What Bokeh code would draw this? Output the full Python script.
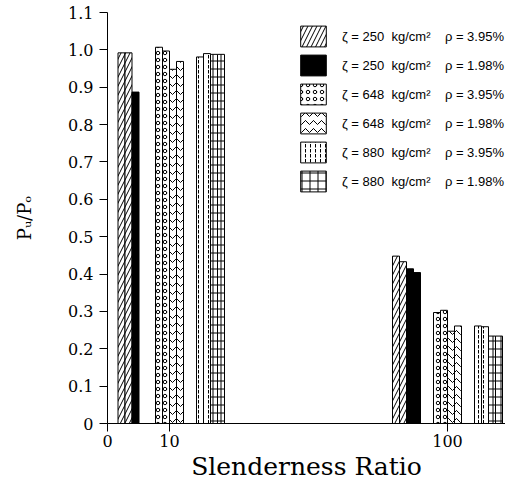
import numpy as np
from bokeh.plotting import figure
from bokeh.models import Range1d, FixedTicker, ColumnDataSource
from bokeh.embed import file_html
from bokeh.resources import INLINE

# ---------------- data ----------------
slenderness = [10, 100]
x_ticks = [0, 10, 100]
x_tick_labels = ["0", "10", "100"]
y_ticks = [0.0, 0.1, 0.2, 0.3, 0.4, 0.5, 0.6, 0.7, 0.8, 0.9, 1.0, 1.1]
y_tick_labels = ["0", "0.1", "0.2", "0.3", "0.4", "0.5", "0.6", "0.7", "0.8", "0.9", "1.0", "1.1"]

strengths = [250, 648, 880]          # kg/cm2
rhos = ["3.95%", "1.98%"]

# Pu/Po values, per strength / steel ratio, at slenderness 10 and 100
fc250_p395_L10 = [0.992, 0.992]
fc250_p198_L10 = [0.887]
fc648_p395_L10 = [1.007, 0.997]
fc648_p198_L10 = [0.948, 0.969]
fc880_p395_L10 = [0.981, 0.990]
fc880_p198_L10 = [0.988, 0.988]

fc250_p395_L100 = [0.448, 0.433]
fc250_p198_L100 = [0.414, 0.404]
fc648_p395_L100 = [0.297, 0.303]
fc648_p198_L100 = [0.247, 0.261]
fc880_p395_L100 = [0.261, 0.259]
fc880_p198_L100 = [0.234, 0.234]

series = {
    (250, "3.95%"): {10: fc250_p395_L10, 100: fc250_p395_L100},
    (250, "1.98%"): {10: fc250_p198_L10, 100: fc250_p198_L100},
    (648, "3.95%"): {10: fc648_p395_L10, 100: fc648_p395_L100},
    (648, "1.98%"): {10: fc648_p198_L10, 100: fc648_p198_L100},
    (880, "3.95%"): {10: fc880_p395_L10, 100: fc880_p395_L100},
    (880, "1.98%"): {10: fc880_p198_L10, 100: fc880_p198_L100},
}

# ---------------- layout / style ----------------
AXIS_BREAK = [0, 62, 340]      # display position of 0, 10, 100 (broken axis)
GROUP_GAP = 41
BAR_W = 7


def axis_pos(s):
    return float(np.interp(s, x_ticks, AXIS_BREAK))


styles = {
    (250, "3.95%"): dict(fill_color="white", hatch_pattern="/", hatch_scale=9),
    (250, "1.98%"): dict(fill_color="black", hatch_pattern=None, hatch_scale=9),
    (648, "3.95%"): dict(fill_color="white", hatch_pattern="o", hatch_scale=7),
    (648, "1.98%"): dict(fill_color="white", hatch_pattern="v", hatch_scale=8),
    (880, "3.95%"): dict(fill_color="white", hatch_pattern=":", hatch_scale=5),
    (880, "1.98%"): dict(fill_color="white", hatch_pattern="+", hatch_scale=8),
}

# compute bar positions
bars = {k: dict(x=[], top=[]) for k in series}
for s in slenderness:
    for g, fc in enumerate(strengths):
        keys = [(fc, r) for r in rhos]
        items = []
        for k in keys:
            for v in series[k][s]:
                items.append((k, v))
        n = len(items)
        center = axis_pos(s) + (g - 1) * GROUP_GAP
        for i, (k, v) in enumerate(items):
            bars[k]["x"].append(center + (i - (n - 1) / 2) * BAR_W)
            bars[k]["top"].append(v)

p = figure(width=505, height=485, output_backend="svg", toolbar_location=None,
           x_range=Range1d(0, 398), y_range=Range1d(0, 1.1),
           min_border_left=107, min_border_right=0, min_border_top=12,
           min_border_bottom=62)
p.outline_line_color = None
p.grid.visible = False
p.background_fill_color = "white"

for k in series:
    fc, r = k
    st = styles[k]
    label = f"ζ = {fc}  kg/cm²    ρ = {r}"
    p.vbar(x="x", top="top", bottom=0, width=BAR_W, source=ColumnDataSource(bars[k]),
           line_color="black", line_width=1, hatch_color="black", hatch_weight=1,
           legend_label=label, **st)

# axes
p.xaxis.ticker = FixedTicker(ticks=[axis_pos(t) for t in x_ticks])
p.xaxis.major_label_overrides = {axis_pos(t): lab for t, lab in zip(x_ticks, x_tick_labels)}
p.yaxis.ticker = FixedTicker(ticks=y_ticks)
p.yaxis.major_label_overrides = {t: lab for t, lab in zip(y_ticks, y_tick_labels)}

for ax in (p.xaxis[0], p.yaxis[0]):
    ax.axis_line_color = "black"
    ax.major_tick_line_color = "black"
    ax.minor_tick_line_color = None
    ax.major_tick_out = 8
    ax.major_tick_in = 0
    ax.major_label_text_font = "DejaVu Serif"
    ax.major_label_text_font_size = "16px"
    ax.major_label_text_color = "black"
    ax.axis_label_text_color = "black"
    ax.axis_label_text_font = "DejaVu Serif"
    ax.axis_label_text_font_style = "normal"
    ax.major_label_standoff = 6

p.xaxis.major_label_standoff = 3
p.xaxis.axis_label = "Slenderness Ratio"
p.xaxis.axis_label_text_font_size = "25px"
p.xaxis.axis_label_standoff = 2
p.yaxis.axis_label = "Pᵤ/Pₒ"
p.yaxis.axis_label_text_font_size = "18px"
p.yaxis.axis_label_standoff = 30

# legend
lg = p.legend[0]
lg.location = (190, 229)
lg.padding = 0
lg.margin = 0
lg.spacing = 3
lg.glyph_width = 32
lg.glyph_height = 26
lg.label_height = 26
lg.label_standoff = 13
lg.label_text_font = "Liberation Sans"
lg.label_text_font_size = "13px"
lg.label_text_color = "black"
lg.border_line_color = None
lg.background_fill_alpha = 0

open("out.html", "w").write(file_html(p, INLINE))
